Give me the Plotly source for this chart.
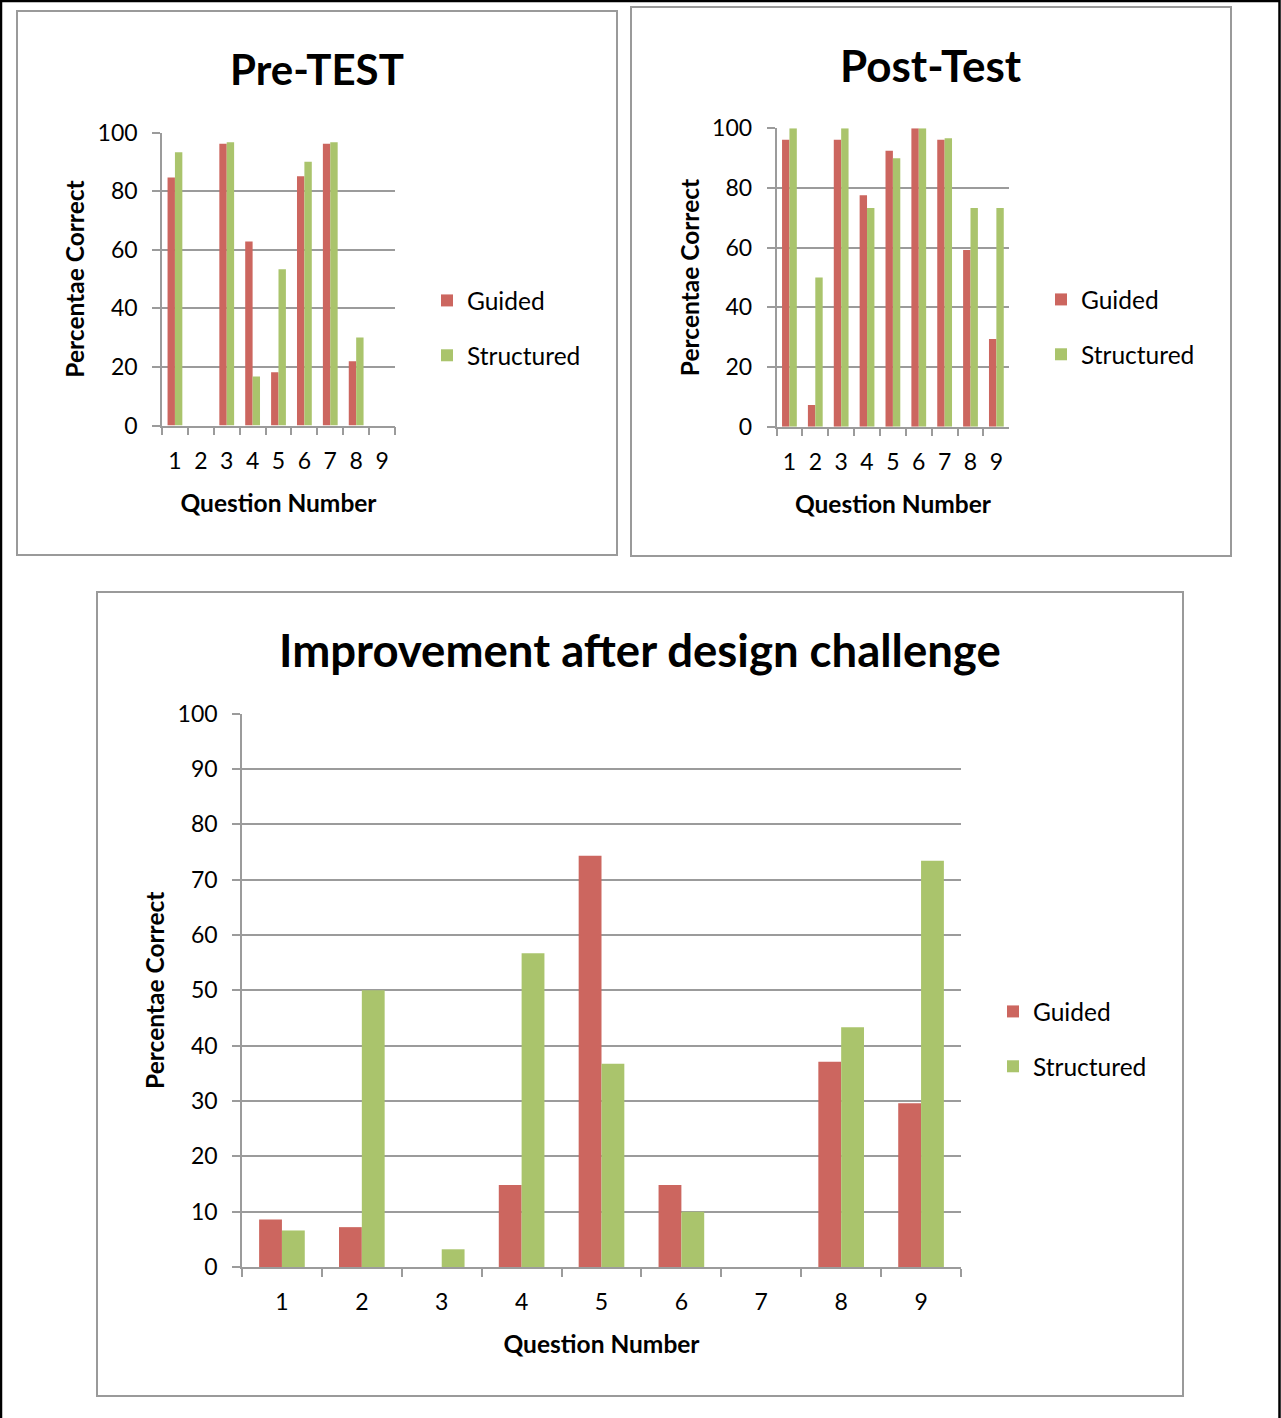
import plotly.graph_objects as go

# Question labels shared by the three charts
questions = ["1", "2", "3", "4", "5", "6", "7", "8", "9"]

# Pre-test percentage correct
pre_guided = [84.6, 0, 96.2, 62.8, 18.2, 85.1, 96.2, 21.9, 0]
pre_structured = [93.3, 0, 96.7, 16.7, 53.3, 90.0, 96.7, 30.0, 0]

# Post-test percentage correct
post_guided = [96.2, 7.3, 96.2, 77.6, 92.5, 100, 96.2, 59.2, 29.4]
post_structured = [100, 50.0, 100, 73.3, 90.0, 100, 96.7, 73.3, 73.3]

# Improvement after the design challenge
imp_guided = [8.6, 7.2, 0, 14.8, 74.3, 14.8, 0, 37.1, 29.6]
imp_structured = [6.6, 50.0, 3.2, 56.7, 36.7, 10.0, 0, 43.3, 73.4]

series_names = ["Guided", "Structured"]
series_colors = ["#CC665F", "#AAC46C"]

W, H = 1281, 1418
FONT = "Lato"
GRID = "#9B9B9B"


def fx(px):
    return px / W


def fy(py):
    return 1 - py / H


fig = go.Figure()

panels = [
    ("", (pre_guided, pre_structured), "legend"),
    ("2", (post_guided, post_structured), "legend2"),
    ("3", (imp_guided, imp_structured), "legend3"),
]
for suffix, values, leg in panels:
    for i, (name, color) in enumerate(zip(series_names, series_colors)):
        fig.add_trace(go.Bar(
            x=questions, y=values[i], name=name,
            marker=dict(color=color, line=dict(width=0)),
            xaxis="x" + suffix, yaxis="y" + suffix,
            legend=leg, legendgroup=leg + name,
        ))

tick_font = dict(family=FONT, size=23, color="black")
title_font = dict(family=FONT, size=24.5, color="black", weight="bold")


def xaxis(domain, anchor):
    return dict(
        domain=domain, anchor=anchor, type="category",
        tickmode="linear", tick0=0, dtick=1,
        tickson="boundaries", ticks="outside", ticklen=8, tickwidth=1.5,
        tickcolor=GRID, showline=True, linecolor=GRID, linewidth=1.5,
        showgrid=False, tickfont=tick_font, fixedrange=True,
        ticklabelstandoff=14,
        title=dict(text="Question Number", font=title_font, standoff=22),
    )


def yaxis(domain, anchor, dtick):
    return dict(
        domain=domain, anchor=anchor, range=[0, 100], dtick=dtick,
        ticks="outside", ticklen=8, tickwidth=1.5, tickcolor=GRID,
        showline=True, linecolor=GRID, linewidth=1.5,
        showgrid=True, gridcolor=GRID, gridwidth=1.5, zeroline=False,
        tickfont=tick_font, fixedrange=True, ticklabelstandoff=10,
        title=dict(text="Percentae Correct", font=title_font, standoff=6),
    )


def legend(x_px, y_px):
    return dict(
        x=fx(x_px), y=fy(y_px), xanchor="left", yanchor="top",
        font=dict(family=FONT, size=24.5, color="black"),
        bgcolor="rgba(0,0,0,0)", borderwidth=0,
        traceorder="grouped", tracegroupgap=20,
    )


layout = dict(
    width=W, height=H,
    margin=dict(l=0, r=0, t=0, b=0, autoexpand=False),
    paper_bgcolor="white", plot_bgcolor="white",
    barmode="group", bargap=1.5 / 3.5, bargroupgap=0,
    showlegend=True,
    xaxis=xaxis([fx(162), fx(395)], "y"),
    yaxis=yaxis([fy(425.5), fy(132.5)], "x", 20),
    xaxis2=xaxis([fx(776.5), fx(1009.3)], "y2"),
    yaxis2=yaxis([fy(426.7), fy(128.3)], "x2", 20),
    xaxis3=xaxis([fx(242), fx(961)], "y3"),
    yaxis3=yaxis([fy(1267), fy(713.5)], "x3", 10),
    legend=legend(427, 278),
    legend2=legend(1041, 277),
    legend3=legend(993, 989),
)
fig.update_layout(**layout)

# Chart titles
for text, x_px, y_px, size in [("Pre-TEST", 317, 69, 42), ("Post-Test", 931, 65, 44),
                               ("Improvement after design challenge", 640, 650, 45.5)]:
    fig.add_annotation(
        text=text, x=fx(x_px), y=fy(y_px), xref="paper", yref="paper",
        xanchor="center", yanchor="middle", showarrow=False,
        font=dict(family=FONT, size=size, color="black", weight="bold"),
    )

# Chart frames
for x0, y0, x1, y1 in [(17, 11, 617, 555), (631, 7, 1231, 556), (97, 592, 1183, 1396)]:
    fig.add_shape(type="rect", xref="paper", yref="paper",
                  x0=fx(x0), y0=fy(y0), x1=fx(x1), y1=fy(y1),
                  line=dict(color="#9A9A9A", width=2), fillcolor="rgba(0,0,0,0)")

# Page border
fig.add_shape(type="path", xref="paper", yref="paper",
              path="M {:.5f},{:.5f} L {:.5f},{:.5f} L {:.5f},{:.5f} L {:.5f},{:.5f}".format(
                  fx(1), fy(1418), fx(1), fy(1), fx(1279.5), fy(1), fx(1279.5), fy(1418)),
              line=dict(color="black", width=2.5))

fig.write_html("out.html")
